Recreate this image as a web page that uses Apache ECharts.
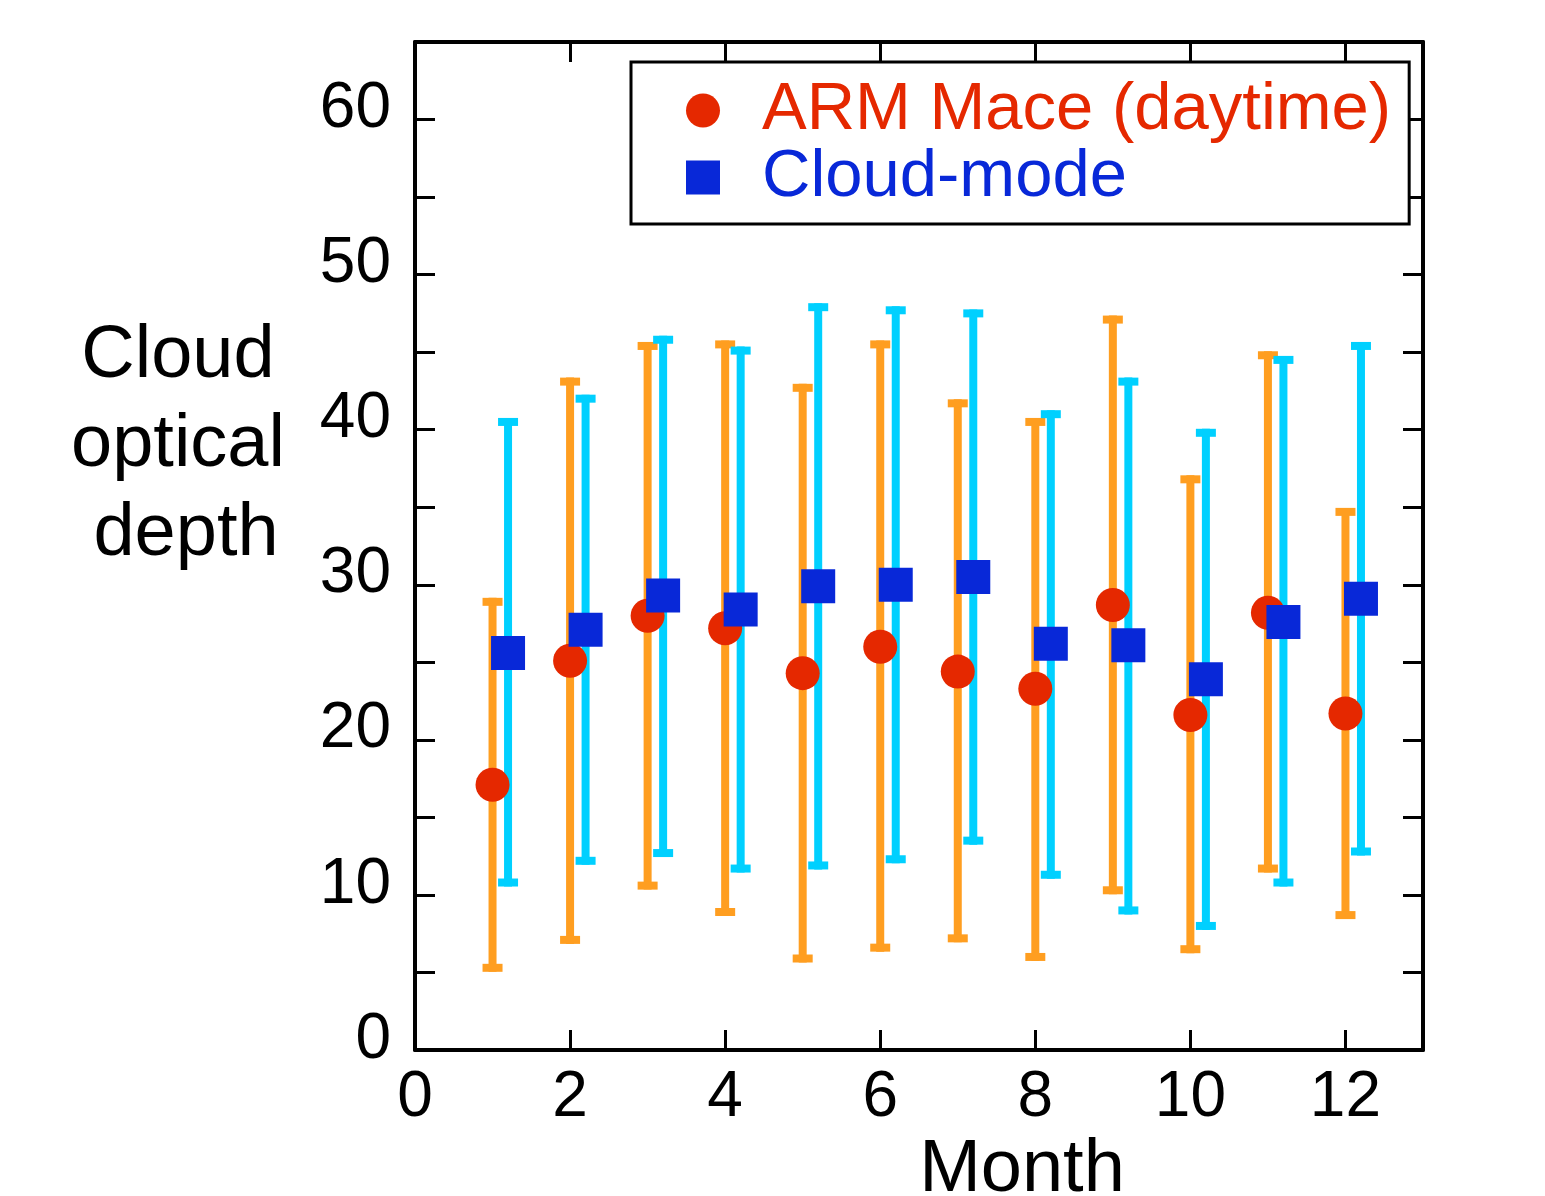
<!DOCTYPE html>
<html>
<head>
<meta charset="utf-8">
<script src="https://cdn.jsdelivr.net/npm/echarts@6/dist/echarts.min.js"></script>
<style>
  html, body { margin: 0; padding: 0; background: #fff; }
  #chart { width: 1545px; height: 1196px; }
</style>
</head>
<body>
<div id="chart"></div>
<script>
// monthly values
var months = [1, 2, 3, 4, 5, 6, 7, 8, 9, 10, 11, 12];
var armMean = [17.1, 25.1, 28.0, 27.2, 24.3, 26.0, 24.4, 23.3, 28.7, 21.6, 28.2, 21.7];
var armLow = [5.3, 7.1, 10.6, 8.9, 5.9, 6.6, 7.2, 6.0, 10.3, 6.5, 11.7, 8.7];
var armHigh = [28.9, 43.1, 45.4, 45.5, 42.7, 45.5, 41.7, 40.5, 47.1, 36.8, 44.8, 34.7];
var cloudMean = [25.6, 27.1, 29.3, 28.4, 29.9, 30.0, 30.5, 26.2, 26.1, 23.9, 27.6, 29.1];
var cloudLow = [10.8, 12.2, 12.7, 11.7, 11.9, 12.3, 13.5, 11.3, 9.0, 8.0, 10.8, 12.8];
var cloudHigh = [40.5, 42.0, 45.8, 45.1, 47.9, 47.7, 47.5, 41.0, 43.1, 39.8, 44.5, 45.4];

var CLOUD_SHIFT = 0.2;   // cloud-mode points drawn slightly right of the month
var FONT = "'Liberation Sans', Arial, Helvetica, sans-serif";
var RED = '#e52800', BLUE = '#0828d8', ORANGE = '#ff9e20', CYAN = '#00d0ff';

function errorBars(name, color, low, high, shift) {
  return {
    name: name,
    type: 'custom',
    z: 1,
    data: months.map(function (m, i) { return [m + shift, low[i], high[i]]; }),
    encode: { x: 0, y: [1, 2] },
    renderItem: function (params, api) {
      var lo = api.coord([api.value(0), api.value(1)]);
      var hi = api.coord([api.value(0), api.value(2)]);
      var hw = 10;
      var style = { stroke: color, lineWidth: 8 };
      return {
        type: 'group',
        children: [
          { type: 'line', shape: { x1: lo[0], y1: lo[1] + 4, x2: hi[0], y2: hi[1] - 4 }, style: style },
          { type: 'line', shape: { x1: lo[0] - hw, y1: lo[1], x2: lo[0] + hw, y2: lo[1] }, style: style },
          { type: 'line', shape: { x1: hi[0] - hw, y1: hi[1], x2: hi[0] + hw, y2: hi[1] }, style: style }
        ]
      };
    }
  };
}

var axisLine = { show: true, onZero: false, lineStyle: { color: '#000', width: 4 } };
var tick = { show: true, inside: true, length: 20, lineStyle: { color: '#000', width: 3 } };

var option = {
  backgroundColor: '#fff',
  animation: false,
  grid: { left: 415, top: 42, right: 122, bottom: 146 },
  xAxis: [
    {
      type: 'value', min: 0, max: 13, interval: 2,
      axisLine: axisLine, axisTick: tick, splitLine: { show: false },
      axisLabel: {
        fontSize: 64, fontFamily: FONT, color: '#000', margin: 16,
        formatter: function (v) { return v % 2 === 0 && v <= 12 ? String(v) : ''; }
      }
    },
    {
      type: 'value', position: 'top', min: 0, max: 13, interval: 2,
      axisLine: axisLine, axisTick: tick, splitLine: { show: false },
      axisLabel: { show: false }
    }
  ],
  yAxis: [
    {
      type: 'value', min: 0, max: 65, interval: 5,
      axisLine: axisLine, axisTick: tick, splitLine: { show: false },
      axisLabel: {
        fontSize: 64, fontFamily: FONT, color: '#000', margin: 24,
        verticalAlign: 'bottom', lineHeight: 20,
        formatter: function (v) { return v % 10 === 0 ? String(v) : ''; }
      }
    },
    {
      type: 'value', position: 'right', min: 0, max: 65, interval: 5,
      axisLine: axisLine, axisTick: tick, splitLine: { show: false },
      axisLabel: { show: false }
    }
  ],
  legend: {
    orient: 'vertical',
    left: 631, top: 62,
    padding: [15, 18, 13, 55],
    itemGap: 0,
    itemWidth: 34, itemHeight: 34,
    borderColor: '#000', borderWidth: 3,
    backgroundColor: '#fff',
    textStyle: { fontSize: 67, fontFamily: FONT, lineHeight: 66, padding: [0, 0, 0, 37] },
    data: [
      { name: 'ARM Mace (daytime)', icon: 'circle', textStyle: { color: RED } },
      { name: 'Cloud-mode', icon: 'rect', textStyle: { color: BLUE } }
    ]
  },
  graphic: [
    {
      type: 'text', x: 178, y: 312, z: 10,
      style: {
        text: 'Cloud\noptical', fontSize: 74, fontFamily: FONT, lineHeight: 89,
        fill: '#000', align: 'center', verticalAlign: 'top'
      }
    },
    {
      type: 'text', x: 186, y: 490, z: 10,
      style: {
        text: 'depth', fontSize: 74, fontFamily: FONT, lineHeight: 89,
        fill: '#000', align: 'center', verticalAlign: 'top'
      }
    },
    {
      type: 'text', x: 1022, y: 1134, z: 10,
      style: { text: 'Month', fontSize: 74, fontFamily: FONT, fill: '#000', align: 'center', verticalAlign: 'top' }
    }
  ],
  series: [
    errorBars('ARM range', ORANGE, armLow, armHigh, 0),
    errorBars('Cloud range', CYAN, cloudLow, cloudHigh, CLOUD_SHIFT),
    {
      name: 'ARM Mace (daytime)',
      type: 'scatter', z: 3,
      symbol: 'circle', symbolSize: 34,
      itemStyle: { color: RED, opacity: 1 },
      data: months.map(function (m, i) { return [m, armMean[i]]; })
    },
    {
      name: 'Cloud-mode',
      type: 'scatter', z: 4,
      symbol: 'rect', symbolSize: 34,
      itemStyle: { color: BLUE, opacity: 1 },
      data: months.map(function (m, i) { return [m + CLOUD_SHIFT, cloudMean[i]]; })
    }
  ]
};

var chart = echarts.init(document.getElementById('chart'), null, { renderer: 'canvas' });
chart.setOption(option);
</script>
</body>
</html>
